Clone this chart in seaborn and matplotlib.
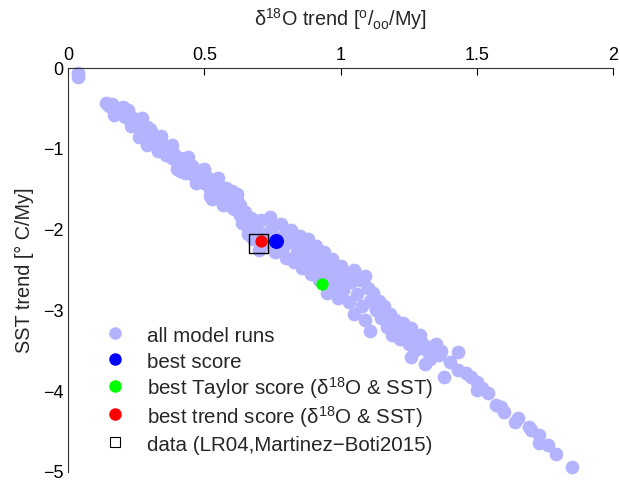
import matplotlib

matplotlib.use("Agg")
import matplotlib.pyplot as plt
from matplotlib.lines import Line2D
import pandas as pd
import seaborn as sns

# all model runs: (d18O trend, SST trend)
RUN_X = [
    0.035, 0.035,
    0.14, 0.15, 0.16, 0.17, 0.18, 0.19, 0.20, 0.21, 0.22, 0.23, 0.24, 0.25, 0.25, 0.26,
    0.27, 0.26, 0.28, 0.29, 0.29, 0.30, 0.31, 0.31, 0.32, 0.33, 0.34, 0.35, 0.36, 0.36,
    0.37, 0.38, 0.39, 0.40, 0.40, 0.41, 0.42, 0.43, 0.43, 0.44, 0.45, 0.46, 0.47, 0.48,
    0.49, 0.50, 0.51, 0.52, 0.53, 0.54, 0.55, 0.56, 0.56, 0.57, 0.58, 0.59, 0.60, 0.61,
    0.62, 0.63, 0.63, 0.64, 0.65, 0.66, 0.67, 0.66,
    0.68, 0.69, 0.70, 0.71, 0.72, 0.73, 0.74, 0.75, 0.76, 0.77, 0.78, 0.79, 0.80, 0.80,
    0.82, 0.82, 0.83, 0.84, 0.85, 0.86, 0.86, 0.87, 0.88, 0.89, 0.89, 0.90, 0.91, 0.92,
    0.92, 0.93, 0.94, 0.95, 0.95, 0.96, 0.97, 0.98, 0.98, 0.99, 1.00, 1.00,
    1.01, 1.02, 1.03, 1.04, 1.05, 1.05, 1.06, 1.07, 1.08, 1.09, 1.09, 1.10, 1.11, 1.11,
    1.12, 1.13, 1.14, 1.15, 1.16, 1.17, 1.18, 1.19, 1.20, 1.21, 1.22, 1.23, 1.24, 1.25,
    1.26, 1.26, 1.27, 1.28, 1.29, 1.30, 1.31, 1.32, 1.33, 1.33, 1.35, 1.36, 1.37, 1.38,
    1.40, 1.43, 1.43, 1.46,
    1.48, 1.50, 1.50, 1.52, 1.54, 1.57, 1.59, 1.60, 1.64, 1.65, 1.69, 1.70, 1.73, 1.73,
    1.76, 1.79, 1.85,
    0.17, 0.20, 0.23, 0.22, 0.27, 0.30, 0.33, 0.34, 0.38, 0.41, 0.44, 0.47, 0.50, 0.52,
    0.55, 0.58, 0.60, 0.62, 0.53, 0.46,
]
RUN_Y = [
    -0.06, -0.11,
    -0.43, -0.47, -0.45, -0.52, -0.50, -0.56, -0.55, -0.61, -0.58, -0.65, -0.62, -0.70, -0.64, -0.75,
    -0.69, -0.86, -0.78, -0.73, -0.95, -0.84, -0.80, -0.92, -0.88, -0.97, -0.91, -1.02, -0.97, -1.08,
    -1.03, -1.12, -1.06, -1.16, -1.25, -1.12, -1.21, -1.16, -1.30, -1.24, -1.20, -1.33, -1.27, -1.38,
    -1.30, -1.42, -1.35, -1.50, -1.40, -1.55, -1.45, -1.62, -1.52, -1.70, -1.58, -1.66, -1.52, -1.75,
    -1.63, -1.82, -1.70, -1.92, -1.78, -1.98, -1.86, -2.05,
    -2.12, -1.95, -2.25, -1.88, -2.05, -2.18, -1.85, -1.98, -2.28, -2.10, -1.93, -2.22, -2.35, -2.03,
    -2.00, -2.15, -2.40, -2.28, -2.08, -2.20, -2.48, -2.35, -2.12, -2.55, -2.27, -2.42, -2.20, -2.35,
    -2.62, -2.50, -2.28, -2.78, -2.42, -2.60, -2.36, -2.70, -2.50, -2.85, -2.45, -2.62,
    -2.75, -2.55, -2.90, -2.65, -3.05, -2.50, -2.80, -2.62, -2.95, -2.58, -3.12, -2.72, -2.88, -3.25,
    -2.78, -3.00, -2.88, -3.10, -2.95, -3.20, -3.05, -3.30, -3.12, -3.22, -3.35, -3.15, -3.28, -3.42,
    -3.22, -3.58, -3.35, -3.48, -3.30, -3.40, -3.66, -3.52, -3.45, -3.60, -3.42, -3.55, -3.50, -3.82,
    -3.64, -3.51, -3.74, -3.77,
    -3.83, -3.89, -3.99, -3.96, -4.02, -4.17, -4.20, -4.26, -4.38, -4.33, -4.44, -4.48, -4.54, -4.64,
    -4.67, -4.78, -4.94,
    -0.58, -0.48, -0.72, -0.52, -0.62, -0.76, -1.03, -0.84, -0.95, -1.28, -1.10, -1.42, -1.25, -1.58,
    -1.36, -1.48, -1.72, -1.56, -1.62, -1.22,
]

BEST_X, BEST_Y = [0.763], [-2.14]
TAYLOR_X, TAYLOR_Y = [0.932], [-2.67]
TREND_X, TREND_Y = [0.708], [-2.14]
DATA_X, DATA_Y = [0.70], [-2.17]

X_TICKS = [0, 0.5, 1, 1.5, 2]
X_TICK_LABELS = ["0", "0.5", "1", "1.5", "2"]
Y_TICKS = [0, -1, -2, -3, -4, -5]
Y_TICK_LABELS = ["0", "\u22121", "\u22122", "\u22123", "\u22124", "\u22125"]

LEGEND_LABELS = [
    "all model runs",
    "best score",
    "best Taylor score (δ$^{18}$O & SST)",
    "best trend score (δ$^{18}$O & SST)",
    "data (LR04,Martinez\u2212Boti2015)",
]

RUN_COLOR = "#b3b3ff"

sns.set_style("white")
plt.rcParams["font.family"] = ["Liberation Sans", "DejaVu Sans"]
plt.rcParams["mathtext.fontset"] = "custom"
plt.rcParams["mathtext.rm"] = "Liberation Sans"
plt.rcParams["mathtext.it"] = "Liberation Sans:italic"
plt.rcParams["mathtext.default"] = "regular"

runs = pd.DataFrame({"d18o": RUN_X, "sst": RUN_Y})

fig = plt.figure(figsize=(6.2, 4.83), dpi=100)
ax = fig.add_axes([0.1097, 0.0228, 0.879, 0.8364])

sns.scatterplot(data=runs, x="d18o", y="sst", color=RUN_COLOR, s=98, linewidth=0,
                ax=ax, legend=False, clip_on=False, zorder=2)
ax.scatter(BEST_X, BEST_Y, color="#0000ff", s=117, linewidth=0, zorder=3)
ax.scatter(TAYLOR_X, TAYLOR_Y, color="#00ff00", s=80, linewidth=0, zorder=3)
ax.scatter(TREND_X, TREND_Y, color="#ff0000", s=78, linewidth=0, zorder=3)
ax.scatter(DATA_X, DATA_Y, marker="s", s=190, facecolor="none", edgecolor="black",
           linewidth=1.0, zorder=4)

ax.set_xlim(0, 2)
ax.set_ylim(-5, 0)
ax.set_xticks(X_TICKS, X_TICK_LABELS)
ax.set_yticks(Y_TICKS, Y_TICK_LABELS)
ax.xaxis.tick_top()
ax.xaxis.set_label_position("top")
ax.tick_params(axis="both", direction="in", length=5, width=0.8, labelsize=13,
               colors="black", pad=3)
for side in ("right", "bottom"):
    ax.spines[side].set_visible(False)
for side in ("top", "left"):
    ax.spines[side].set_color("#333333")
    ax.spines[side].set_linewidth(0.8)

ax.set_xlabel("δ$^{18}$O trend [$^{o}$/$_{oo}$/My]", fontsize=14.3, labelpad=15)
ax.set_ylabel("SST trend [° C/My]", fontsize=14.3, labelpad=7)

handles = [
    Line2D([], [], marker="o", linestyle="none", color=RUN_COLOR, markersize=8),
    Line2D([], [], marker="o", linestyle="none", color="#0000ff", markersize=8),
    Line2D([], [], marker="o", linestyle="none", color="#00ff00", markersize=8),
    Line2D([], [], marker="o", linestyle="none", color="#ff0000", markersize=8),
    Line2D([], [], marker="s", linestyle="none", markerfacecolor="none",
           markeredgecolor="black", markersize=7, markeredgewidth=0.8),
]
ax.legend(handles, LEGEND_LABELS, loc="upper left", bbox_to_anchor=(0.068, 0.366),
          frameon=False, fontsize=14.8, handlelength=1.0, handletextpad=1.05,
          handleheight=1.3, labelspacing=0.145, borderpad=0, borderaxespad=0)

fig.savefig("out.png", dpi=100)
